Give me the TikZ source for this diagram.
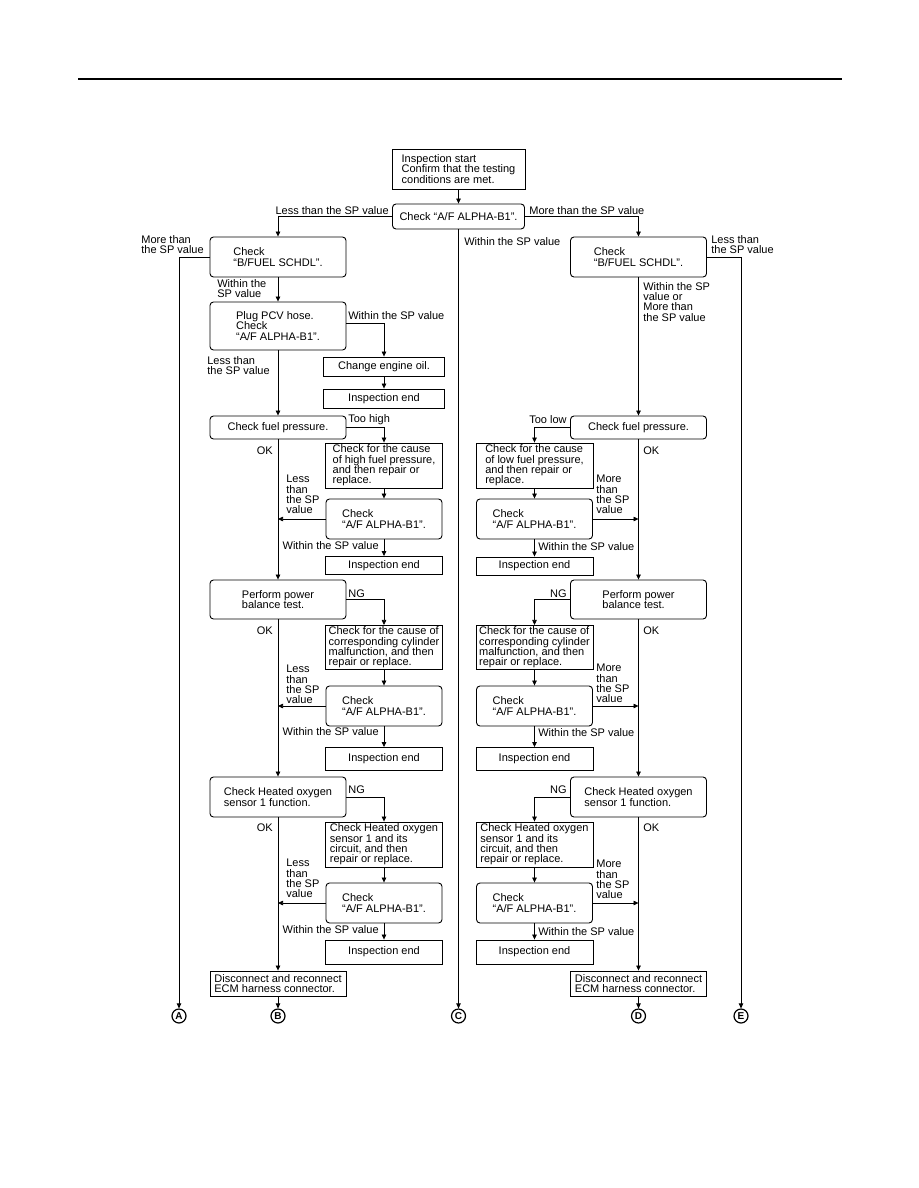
\documentclass[tikz,border=0pt]{standalone}
\usepackage{fontspec}
\setmainfont{Liberation Sans}
\usepackage{tikz}
\usetikzlibrary{arrows.meta,positioning,calc}

\begin{document}
\begin{tikzpicture}[x=1pt,y=-1pt,->,>={Triangle[length=5pt,width=4.5pt]},line width=0.7pt,
  font=\fontsize{11}{10.3}\selectfont]

   \tikzstyle{rbox}=[draw,rounded corners=3.5pt,line width=0.9pt,minimum width=136pt,align=left,inner xsep=2pt,inner ysep=1.5pt]
   \tikzstyle{sbox}=[draw,line width=0.9pt,minimum width=117pt,align=left,inner xsep=2pt,inner ysep=1.5pt]
   \tikzstyle{lbl}=[inner sep=0pt,align=left]
   \tikzstyle{tag}=[draw,circle,line width=1.2pt,inner sep=0pt,minimum size=14pt,font=\fontsize{10}{10}\selectfont\bfseries]

   \useasboundingbox (0,0) rectangle (918,1188);
   \draw[-,line width=2pt] (78,79) -- (842,79);

   % top of the chart
   \node[sbox,minimum width=133pt,minimum height=40pt] (start) at (458.5,169) {Inspection start\\Confirm that the testing\\conditions are met.};
   \node[rbox,minimum width=132pt,minimum height=25pt] (chk) at (458.5,216.5) {Check “A/F ALPHA-B1”.};
   \node[rbox,minimum height=40pt] (bfL) at (278,257) {Check\\“B/FUEL SCHDL”.};
   \node[rbox,minimum height=40pt] (bfR) at (638.5,257) {Check\\“B/FUEL SCHDL”.};
   \node[rbox,minimum height=48pt] (pcv) at (278,326) {Plug PCV hose.\\Check\\“A/F ALPHA-B1”.};
   \node[sbox,minimum width=121pt,minimum height=19pt] (oil) at (384,366.5) {Change engine oil.};
   \node[sbox,minimum width=121pt,minimum height=19pt] (endA) at (384,398.5) {Inspection end};

   % fuel pressure
   \node[rbox,minimum height=23pt] (fpL) at (278,427.5) {Check fuel pressure.};
   \node[rbox,minimum height=23pt] (fpR) at (638.5,427.5) {Check fuel pressure.};
   \node[sbox,minimum height=45pt] (causeL1) at (384,465.5) {Check for the cause\\of high fuel pressure,\\and then repair or\\replace.};
   \node[sbox,minimum height=45pt] (causeR1) at (534.5,465.5) {Check for the cause\\of low fuel pressure,\\and then repair or\\replace.};
   \node[rbox,minimum width=116pt,minimum height=40pt] (chkL1) at (384,519) {Check\\“A/F ALPHA-B1”.};
   \node[rbox,minimum width=116pt,minimum height=40pt] (chkR1) at (534.5,519) {Check\\“A/F ALPHA-B1”.};
   \node[sbox,minimum height=18pt] (endL1) at (384,565.5) {Inspection end};
   \node[sbox,minimum height=18pt] (endR1) at (534.5,566) {Inspection end};

   % power balance
   \node[rbox,minimum height=39pt] (powL) at (278,599.5) {Perform power\\balance test.};
   \node[rbox,minimum height=39pt] (powR) at (638.5,599.5) {Perform power\\balance test.};
   \node[sbox,minimum height=43pt] (causeL2) at (384,647.5) {Check for the cause of\\corresponding cylinder\\malfunction, and then\\repair or replace.};
   \node[sbox,minimum height=43pt] (causeR2) at (534.5,647.5) {Check for the cause of\\corresponding cylinder\\malfunction, and then\\repair or replace.};
   \node[rbox,minimum width=116pt,minimum height=40pt] (chkL2) at (384,706) {Check\\“A/F ALPHA-B1”.};
   \node[rbox,minimum width=116pt,minimum height=40pt] (chkR2) at (534.5,706) {Check\\“A/F ALPHA-B1”.};
   \node[sbox,minimum height=23pt] (endL2) at (384,759) {Inspection end};
   \node[sbox,minimum height=23pt] (endR2) at (534.5,759) {Inspection end};

   % heated oxygen sensor
   \node[rbox,minimum height=40pt] (o2L) at (278,797) {Check Heated oxygen\\sensor 1 function.};
   \node[rbox,minimum height=40pt] (o2R) at (638.5,797) {Check Heated oxygen\\sensor 1 function.};
   \node[sbox,minimum height=45pt] (causeL3) at (384,844.5) {Check Heated oxygen\\sensor 1 and its\\circuit, and then\\repair or replace.};
   \node[sbox,minimum height=45pt] (causeR3) at (534.5,844.5) {Check Heated oxygen\\sensor 1 and its\\circuit, and then\\repair or replace.};
   \node[rbox,minimum width=116pt,minimum height=40pt] (chkL3) at (384,903) {Check\\“A/F ALPHA-B1”.};
   \node[rbox,minimum width=116pt,minimum height=40pt] (chkR3) at (534.5,903) {Check\\“A/F ALPHA-B1”.};
   \node[sbox,minimum height=24pt] (endL3) at (384,952) {Inspection end};
   \node[sbox,minimum height=24pt] (endR3) at (534.5,952) {Inspection end};

   \node[sbox,minimum width=136pt,minimum height=25pt] (discL) at (278,983.5) {Disconnect and reconnect\\ECM harness connector.};
   \node[sbox,minimum width=136pt,minimum height=25pt] (discR) at (638.5,983.5) {Disconnect and reconnect\\ECM harness connector.};

   \node[tag] (A) at (179,1016) {A};
   \node[tag] (B) at (278,1016) {B};
   \node[tag] (C) at (458.5,1016) {C};
   \node[tag] (D) at (638.5,1016) {D};
   \node[tag] (E) at (741,1016) {E};

   % connectors
   \draw (start) -- (chk);
   \draw (chk.west) -| (bfL.north);
   \draw (chk.east) -| (bfR.north);
   \draw (chk) -- (C);
   \draw (bfL.west) -| (A.north);
   \draw (bfR.east) -| (E.north);
   \draw (bfL) -- (pcv);
   \draw ([yshift=3pt]pcv.east) -| (oil.north);
   \draw (oil) -- (endA);
   \draw (pcv) -- (fpL);
   \draw (bfR) -- (fpR);

   \draw (fpL.east) -| (causeL1.north);
   \draw (fpR.west) -| (causeR1.north);
   \draw (causeL1) -- (chkL1);
   \draw (causeR1) -- (chkR1);
   \draw (chkL1.west) -- (chkL1.west -| fpL.south);
   \draw (chkR1.east) -- (chkR1.east -| fpR.south);
   \draw (chkL1) -- (endL1);
   \draw (chkR1) -- (endR1);
   \draw (fpL) -- (powL);
   \draw (fpR) -- (powR);

   \draw (powL.east) -| (causeL2.north);
   \draw (powR.west) -| (causeR2.north);
   \draw (causeL2) -- (chkL2);
   \draw (causeR2) -- (chkR2);
   \draw (chkL2.west) -- (chkL2.west -| powL.south);
   \draw (chkR2.east) -- (chkR2.east -| powR.south);
   \draw (chkL2) -- (endL2);
   \draw (chkR2) -- (endR2);
   \draw (powL) -- (o2L);
   \draw (powR) -- (o2R);

   \draw (o2L.east) -| (causeL3.north);
   \draw (o2R.west) -| (causeR3.north);
   \draw (causeL3) -- (chkL3);
   \draw (causeR3) -- (chkR3);
   \draw (chkL3.west) -- (chkL3.west -| o2L.south);
   \draw (chkR3.east) -- (chkR3.east -| o2R.south);
   \draw (chkL3) -- (endL3);
   \draw (chkR3) -- (endR3);
   \draw (o2L) -- (discL);
   \draw (o2R) -- (discR);
   \draw (discL) -- (B);
   \draw (discR) -- (D);

   % labels
   \node[lbl,anchor=east] at (389,211) {Less than the SP value};
   \node[lbl,anchor=west] at (529,211) {More than the SP value};
   \node[lbl,anchor=west] at (464,242) {Within the SP value};
   \node[lbl,anchor=north west] at (141,235) {More than\\the SP value};
   \node[lbl,anchor=north west] at (711,235) {Less than\\the SP value};
   \node[lbl,anchor=north west] at (217,279) {Within the\\SP value};
   \node[lbl,anchor=north west] at (643,282) {Within the SP\\value or\\More than\\the SP value};
   \node[lbl,anchor=west] at (348,316) {Within the SP value};
   \node[lbl,anchor=north west] at (207,356) {Less than\\the SP value};

   \node[lbl,anchor=west] at (348,420) {Too high};
   \node[lbl,anchor=east] at (567,420) {Too low};
   \node[lbl,anchor=east] at (273,451) {OK};
   \node[lbl,anchor=west] at (643,451) {OK};
   \node[lbl,anchor=north west] at (286,475) {Less\\than\\the SP\\value};
   \node[lbl,anchor=north west] at (596,475) {More\\than\\the SP\\value};
   \node[lbl,anchor=east] at (379,546) {Within the SP value};
   \node[lbl,anchor=west] at (538,547) {Within the SP value};

   \node[lbl,anchor=west] at (348,594) {NG};
   \node[lbl,anchor=east] at (567,594) {NG};
   \node[lbl,anchor=east] at (273,631) {OK};
   \node[lbl,anchor=west] at (643,631) {OK};
   \node[lbl,anchor=north west] at (286,665) {Less\\than\\the SP\\value};
   \node[lbl,anchor=north west] at (596,664) {More\\than\\the SP\\value};
   \node[lbl,anchor=east] at (379,732) {Within the SP value};
   \node[lbl,anchor=west] at (538,733) {Within the SP value};

   \node[lbl,anchor=west] at (348,790) {NG};
   \node[lbl,anchor=east] at (567,790) {NG};
   \node[lbl,anchor=east] at (273,828) {OK};
   \node[lbl,anchor=west] at (643,828) {OK};
   \node[lbl,anchor=north west] at (286,859) {Less\\than\\the SP\\value};
   \node[lbl,anchor=north west] at (596,860) {More\\than\\the SP\\value};
   \node[lbl,anchor=east] at (379,930) {Within the SP value};
   \node[lbl,anchor=west] at (538,932) {Within the SP value};

\end{tikzpicture}
\end{document}
